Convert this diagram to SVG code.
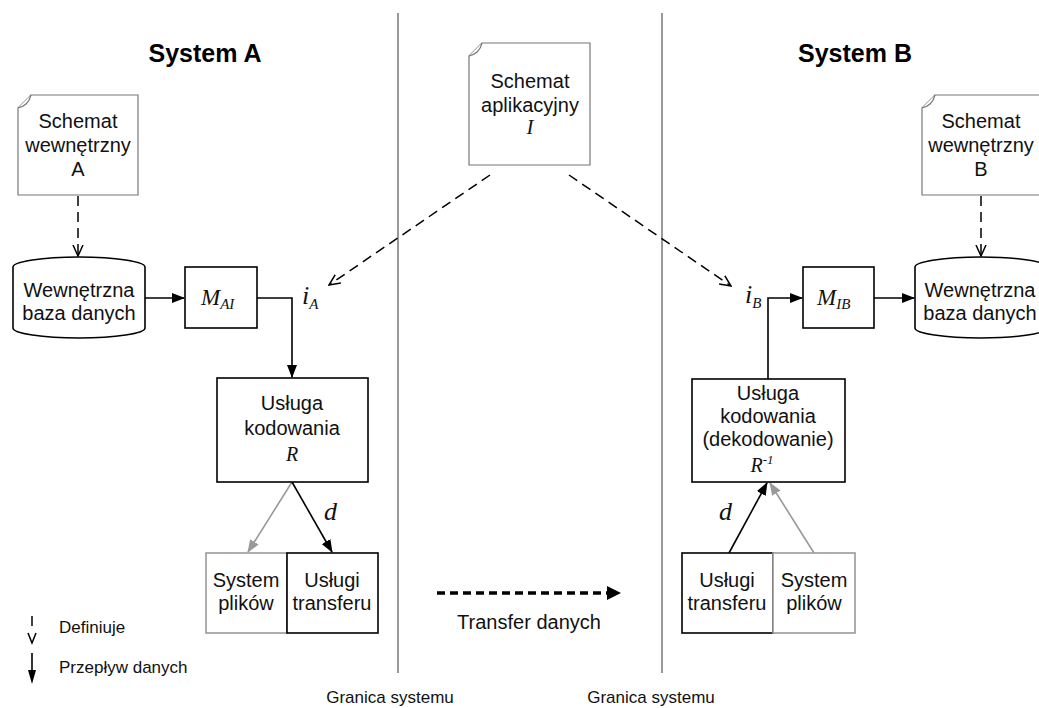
<svg xmlns="http://www.w3.org/2000/svg" width="1039" height="708" viewBox="0 0 1039 708">
<defs>
<style>
.t{font-family:"Liberation Sans",Arial,sans-serif;font-size:20px;fill:#111;text-anchor:middle}
.s{font-family:"Liberation Sans",Arial,sans-serif;font-size:17px;fill:#111}
.h{font-family:"Liberation Sans",Arial,sans-serif;font-size:25px;font-weight:bold;fill:#000;text-anchor:middle}
.m{font-family:"Liberation Serif","Times New Roman",serif;font-style:italic;fill:#111}
.doc{fill:#fff;stroke:#777;stroke-width:1.2}
.box{fill:#fff;stroke:#000;stroke-width:1.6}
.gbox{fill:#fff;stroke:#999;stroke-width:1.6}
.bl{fill:none;stroke:#777;stroke-width:1.5}
.fl{fill:none;stroke:#000;stroke-width:1.6}
.gfl{fill:none;stroke:#999;stroke-width:1.6}
.dl{fill:none;stroke:#000;stroke-width:1.5;stroke-dasharray:10 6}
</style>
<marker id="fa" markerWidth="13" markerHeight="10" refX="12" refY="5" orient="auto" markerUnits="userSpaceOnUse"><path d="M0,0 L13,5 L0,10 Z" fill="#000"/></marker>
<marker id="ga" markerWidth="13" markerHeight="10" refX="12" refY="5" orient="auto" markerUnits="userSpaceOnUse"><path d="M0,0 L13,5 L0,10 Z" fill="#999"/></marker>
<marker id="oa" markerWidth="12" markerHeight="12" refX="11" refY="6" orient="auto" markerUnits="userSpaceOnUse"><path d="M0,1 L11,6 L0,11" fill="none" stroke="#000" stroke-width="1.5"/></marker>
</defs>

<g id="boundaries">
<line class="bl" x1="398" y1="13" x2="398" y2="673"/>
<line class="bl" x1="662" y1="13" x2="662" y2="673"/>
<text class="s" x="390" y="703" text-anchor="middle">Granica systemu</text>
<text class="s" x="651" y="703" text-anchor="middle">Granica systemu</text>
</g>

<g id="titles">
<text class="h" x="205" y="62">System A</text>
<text class="h" x="855" y="62">System B</text>
</g>

<g id="connectors">
<line class="dl" x1="78" y1="196" x2="78" y2="256" marker-end="url(#oa)"/>
<line class="dl" x1="981" y1="196" x2="981" y2="256" marker-end="url(#oa)"/>
<line class="dl" x1="490" y1="175" x2="329" y2="285" marker-end="url(#oa)"/>
<line class="dl" x1="569" y1="175" x2="731" y2="286" marker-end="url(#oa)"/>
<line class="fl" x1="145" y1="298" x2="184" y2="298" marker-end="url(#fa)"/>
<polyline class="fl" points="257,298 292,298 292,377" marker-end="url(#fa)"/>
<line class="gfl" x1="292" y1="482" x2="248" y2="552" marker-end="url(#ga)"/>
<line class="fl" x1="292" y1="482" x2="332" y2="552" marker-end="url(#fa)"/>
<polyline class="fl" points="768,379 768,298 802,298" marker-end="url(#fa)"/>
<line class="fl" x1="874" y1="298" x2="914" y2="298" marker-end="url(#fa)"/>
<line class="fl" x1="729" y1="553" x2="767" y2="483" marker-end="url(#fa)"/>
<line class="gfl" x1="814" y1="553" x2="770" y2="483" marker-end="url(#ga)"/>
<line x1="437" y1="593" x2="610" y2="593" stroke="#000" stroke-width="3.5" stroke-dasharray="8 5"/>
<path d="M607,586 L621,593 L607,600 Z" fill="#000"/>
<text class="m" x="324" y="520" font-size="26">d</text>
<text class="m" x="719" y="520" font-size="26">d</text>
<text class="m" x="302" y="304" font-size="26">i<tspan font-size="15" dy="5">A</tspan></text>
<text class="m" x="745" y="303" font-size="26">i<tspan font-size="15" dy="5">B</tspan></text>
</g>

<g id="docA">
<path class="doc" d="M31,95 H138 V195 H18 V108 Z"/>
<path class="doc" d="M18,108 C25,106 29,103 31,95" fill="none"/>
<text class="t" x="78" y="128">Schemat</text>
<text class="t" x="78" y="152">wewnętrzny</text>
<text class="t" x="78" y="176">A</text>
</g>

<g id="docI">
<path class="doc" d="M482,43 H590 V165 H469 V56 Z"/>
<path class="doc" d="M469,56 C476,54 480,51 482,43" fill="none"/>
<text class="t" x="530" y="88">Schemat</text>
<text class="t" x="530" y="112">aplikacyjny</text>
<text class="m" x="530" y="134" font-size="21" text-anchor="middle">I</text>
</g>

<g id="docB">
<path class="doc" d="M935,95 H1042 V195 H922 V108 Z"/>
<path class="doc" d="M922,108 C929,106 933,103 935,95" fill="none"/>
<text class="t" x="981" y="128">Schemat</text>
<text class="t" x="981" y="152">wewnętrzny</text>
<text class="t" x="981" y="176">B</text>
</g>

<g id="dbA">
<path class="box" stroke-width="1.3" d="M13,267 V328 A66,10 0 0 0 145,328 V267 A66,10 0 0 0 13,267 Z"/>
<text class="t" x="79" y="297">Wewnętrzna</text>
<text class="t" x="79" y="320">baza danych</text>
</g>

<g id="dbB">
<path class="box" stroke-width="1.3" d="M915,267 V328 A66,10 0 0 0 1047,328 V267 A66,10 0 0 0 915,267 Z"/>
<text class="t" x="980" y="297">Wewnętrzna</text>
<text class="t" x="980" y="320">baza danych</text>
</g>

<g id="MAI">
<rect class="box" x="185" y="267" width="72" height="61"/>
<text class="m" x="201" y="305" font-size="23">M<tspan font-size="15" dy="4">AI</tspan></text>
</g>

<g id="MIB">
<rect class="box" x="803" y="267" width="71" height="61"/>
<text class="m" x="817" y="305" font-size="23">M<tspan font-size="15" dy="4">IB</tspan></text>
</g>

<g id="kodA">
<rect class="box" x="217" y="378" width="151" height="104"/>
<text class="t" x="292" y="410">Usługa</text>
<text class="t" x="292" y="435">kodowania</text>
<text class="m" x="292" y="461" font-size="20" text-anchor="middle">R</text>
</g>

<g id="kodB">
<rect class="box" x="692" y="379" width="153" height="103"/>
<text class="t" x="768" y="400">Usługa</text>
<text class="t" x="768" y="423">kodowania</text>
<text class="t" x="768" y="446">(dekodowanie)</text>
<text class="m" x="762" y="472" font-size="20" text-anchor="middle">R<tspan font-size="13" dy="-8">-1</tspan></text>
</g>

<g id="plikA">
<rect class="gbox" x="206" y="553" width="81" height="80"/>
<text class="t" x="246" y="587">System</text>
<text class="t" x="246" y="610">plików</text>
</g>
<g id="transA">
<rect class="box" x="287" y="553" width="91" height="80"/>
<text class="t" x="332" y="587">Usługi</text>
<text class="t" x="332" y="610">transferu</text>
</g>
<g id="transB">
<rect class="box" x="682" y="553" width="91" height="80"/>
<text class="t" x="727" y="587">Usługi</text>
<text class="t" x="727" y="610">transferu</text>
</g>
<g id="plikB">
<rect class="gbox" x="773" y="553" width="82" height="80"/>
<text class="t" x="814" y="587">System</text>
<text class="t" x="814" y="610">plików</text>
</g>

<g id="transferLabel">
<text class="t" x="529" y="629" font-size="19">Transfer danych</text>
</g>

<g id="legend">
<line x1="32" y1="616" x2="32" y2="626" stroke="#000" stroke-width="1.5"/>
<path d="M28,633 L32,643 L36,633" fill="none" stroke="#000" stroke-width="1.5"/>
<text class="s" x="59" y="633">Definiuje</text>
<line x1="32" y1="653" x2="32" y2="672" stroke="#000" stroke-width="1.6"/>
<path d="M28,670 L32,684 L36,670 Z" fill="#000"/>
<text class="s" x="59" y="673">Przepływ danych</text>
</g>
</svg>
